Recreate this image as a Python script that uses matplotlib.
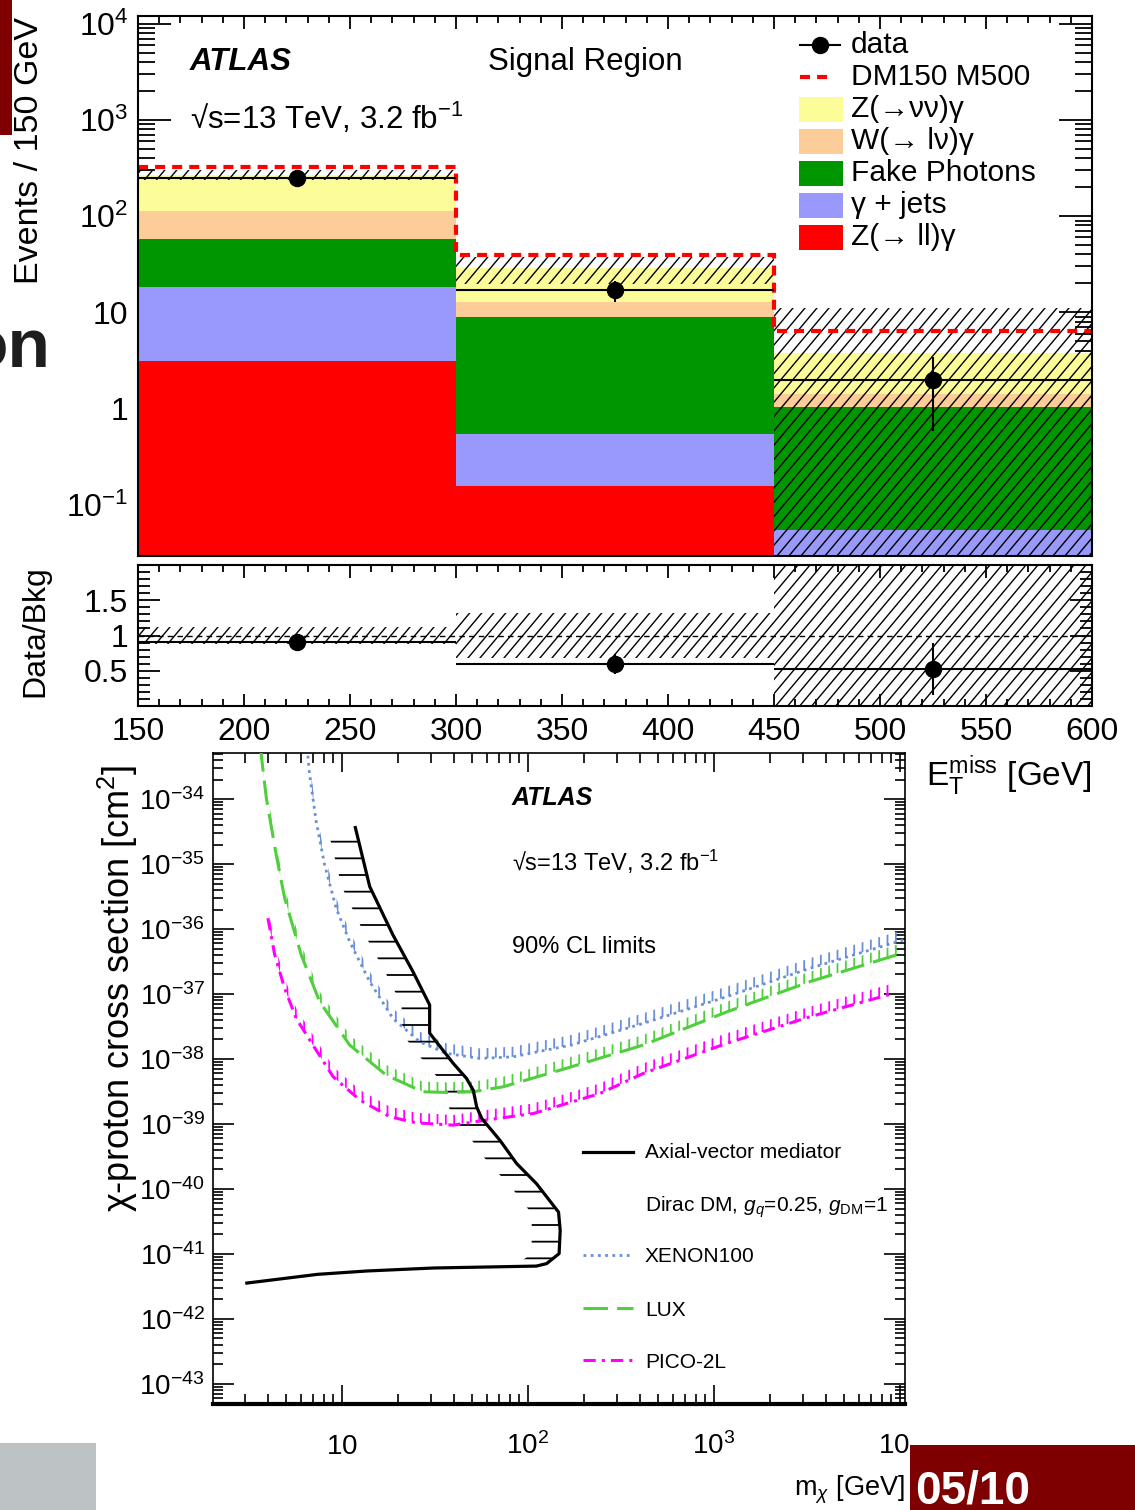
import numpy as np
import matplotlib
matplotlib.use('Agg')
import matplotlib.pyplot as plt
from matplotlib import ticker
from matplotlib.patches import Rectangle, Polygon
from matplotlib.collections import LineCollection
from matplotlib.lines import Line2D

W, H = 1135, 1510
SANS = ['Liberation Sans', 'DejaVu Sans']

plt.rcParams['font.family'] = SANS
plt.rcParams['mathtext.fontset'] = 'custom'
plt.rcParams['mathtext.rm'] = 'Liberation Sans'
plt.rcParams['mathtext.it'] = 'Liberation Sans:italic'
plt.rcParams['mathtext.bf'] = 'Liberation Sans:bold'
plt.rcParams['hatch.linewidth'] = 1.3

# ---- E_T^miss spectrum, signal region (events per bin) ----
bin_edges = [150, 300, 450, 600]
z_ll = [3.14, 0.157, 0.005]
gamma_jets = [15.2, 0.39, 0.05]
fake_photons = [39.0, 8.4, 0.99]
w_lnu = [55.4, 3.9, 0.38]
z_nunu = [157.3, 15.9, 2.38]
bkg_err = [32.0, 9.0, 7.4]
dm_signal = [55.0, 10.7, 2.64]
data = [247, 17, 2]

# ---- 90% CL limits on chi-proton cross section [cm2] vs m_chi [GeV] ----
atlas_mass = [11.8, 14.1, 18.8, 24.1, 29.6, 29.6, 39.6, 46.8, 50.8, 53.0, 56.4, 70.7,
              86.9, 111, 146, 149, 147, 126, 111, 31, 13.6, 7.4, 3.08]
atlas_xsec = [3.65e-35, 4.5e-36, 8.1e-37, 2.2e-37, 6.8e-38, 2.5e-38, 8.6e-39, 5.0e-39,
              3.3e-39, 1.83e-39, 1.22e-39, 5.6e-40, 2.46e-40, 1.21e-40, 4.4e-41, 2.3e-41,
              1.01e-41, 7.1e-42, 6.5e-42, 6.07e-42, 5.46e-42, 4.85e-42, 3.56e-42]
xenon_mass = [6.5, 6.70, 7.27, 8.07, 9.31, 11.0, 14.1, 18.8, 26.2, 36.4, 55.0, 83.0,
              125, 171, 417, 1170, 3280, 10400]
xenon_xsec = [6e-34, 2.37e-34, 4.5e-35, 9.7e-36, 2.09e-36, 6.4e-37, 1.55e-37, 4.2e-38,
              1.84e-38, 1.22e-38, 1.02e-38, 1.08e-38, 1.37e-38, 1.64e-38, 3.54e-38,
              9.1e-38, 2.49e-37, 6.8e-37]
lux_mass = [3.64, 3.92, 4.43, 4.92, 6.04, 7.59, 11.0, 17.3, 27.2, 36.4, 50.6, 73.4,
            161, 417, 1170, 3280, 10400]
lux_xsec = [6.3e-34, 1.04e-34, 1.39e-35, 2.99e-36, 3.99e-37, 7.6e-38, 1.64e-38, 5.65e-39,
            3.13e-39, 3.06e-39, 3.13e-39, 3.73e-39, 7.2e-39, 1.64e-38, 5.3e-38,
            1.55e-37, 4.3e-37]
pico_mass = [4.0, 4.35, 4.92, 5.68, 6.98, 8.98, 12.5, 18.1, 25.2, 39.6, 60.0, 107,
             244, 417, 1170, 3280, 9200]
pico_xsec = [1.47e-36, 4.0e-37, 1.22e-37, 4.2e-38, 1.64e-38, 5.3e-39, 2.33e-39, 1.29e-39,
             1.04e-39, 9.6e-40, 1.15e-39, 1.45e-39, 2.95e-39, 6.0e-39, 1.74e-38,
             4.47e-38, 1.02e-37]

C_ZNN = '#fcfc99'
C_WLN = '#fccc99'
C_FAKE = '#009600'
C_GJ = '#9999fc'
C_ZLL = '#ff0000'
C_XE = '#6a8fd6'
C_LUX = '#4fcf3c'
C_PICO = '#ff00ff'


def px_axes(l, t, r, b):
    return fig.add_axes([l / W, 1 - b / H, (r - l) / W, (b - t) / H])


def ftext(x, y, s, **kw):
    return fig.text(x / W, 1 - y / H, s, **kw)


def frect(x0, y0, x1, y1, **kw):
    fig.add_artist(Rectangle((x0 / W, 1 - y1 / H), (x1 - x0) / W, (y1 - y0) / H,
                             transform=fig.transFigure, **kw))


def fline(x0, x1, y, **kw):
    fig.add_artist(Line2D([x0 / W, x1 / W], [1 - y / H, 1 - y / H],
                          transform=fig.transFigure, **kw))


def diag_hatch(a, x0, x1, y0, y1, step=12.0, angle=50.0):
    # ROOT-like diagonal hatch clipped to a data-space rectangle
    bb = a.get_position()
    wpx, hpx = bb.width * W, bb.height * H
    run = hpx / np.tan(np.radians(angle))
    segs = [[(c / wpx, 0), ((c + run) / wpx, 1)] for c in np.arange(-run, wpx, step)]
    lc = LineCollection(segs, colors='k', linewidths=1.0, transform=a.transAxes, zorder=4)
    a.add_collection(lc, autolim=False)
    clip = Rectangle((x0, y0), x1 - x0, y1 - y0, transform=a.transData)
    lc.set_clip_path(clip)


fig = plt.figure(figsize=(W / 100, H / 100), dpi=100)
fig.patch.set_facecolor('white')

ax = px_axes(138, 16, 1092, 556)
rax = px_axes(138, 565, 1092, 706)
lax = px_axes(213, 753, 905, 1404)

# ---------------- stacked backgrounds ----------------
edges = np.array(bin_edges, dtype=float)
lefts = edges[:-1]
widths = np.diff(edges)
centers = lefts + widths / 2

ax.set_yscale('log')
base = np.full(3, 1e-4)
for vals, col in [(z_ll, C_ZLL), (gamma_jets, C_GJ), (fake_photons, C_FAKE),
                  (w_lnu, C_WLN), (z_nunu, C_ZNN)]:
    ax.bar(lefts, vals, widths, bottom=base, align='edge', color=col, linewidth=0, zorder=2)
    base = base + np.array(vals)
bkg = base - 1e-4

for i in range(3):
    diag_hatch(ax, edges[i], edges[i + 1], max(bkg[i] - bkg_err[i], 1e-4), bkg[i] + bkg_err[i])

total = bkg + np.array(dm_signal)
sig = ax.stairs(total, edges, baseline=None, color='red', linewidth=3.0, zorder=5)
sig.set_linestyle((0, (2.4, 1.7)))

data_arr = np.array(data, dtype=float)
ax.errorbar(centers, data_arr, xerr=widths / 2, yerr=np.sqrt(data_arr), fmt='o', color='k',
            ms=11.5, elinewidth=1.5, capsize=0, zorder=6)

ax.set_xlim(150, 600)
ax.set_ylim(0.0294, 1.2e4)
ax.yaxis.set_major_locator(ticker.FixedLocator([0.1, 1, 10, 100, 1000, 10000]))
ax.yaxis.set_major_formatter(ticker.FixedFormatter(
    [r'$\mathdefault{10^{-1}}$', '1', '10', r'$\mathdefault{10^{2}}$',
     r'$\mathdefault{10^{3}}$', r'$\mathdefault{10^{4}}$']))
ax.yaxis.set_minor_locator(ticker.LogLocator(base=10, subs=np.arange(2, 10), numticks=20))
ax.yaxis.set_minor_formatter(ticker.NullFormatter())
ax.xaxis.set_major_locator(ticker.MultipleLocator(50))
ax.xaxis.set_minor_locator(ticker.MultipleLocator(10))
ax.tick_params(which='both', direction='in', top=True, right=True, width=1.3,
               labelbottom=False, labelsize=23, pad=7)
ax.tick_params(axis='x', which='major', length=9.5)
ax.tick_params(axis='x', which='minor', length=5)
ax.tick_params(axis='y', which='major', length=24)
ax.tick_params(axis='y', which='minor', length=12)
for s in ax.spines.values():
    s.set_linewidth(1.5)
    s.set_zorder(7)

ftext(190, 62, 'ATLAS', fontsize=22.5, weight='bold', style='italic', va='center')
ftext(488, 62, 'Signal Region', fontsize=22.5, va='center')
ftext(190, 118, r'√s=13 TeV, 3.2 fb$^{\mathdefault{-1}}$', fontsize=22.5, va='center')

# legend
fline(800, 840, 45, color='k', lw=1.5)
fig.add_artist(Line2D([820 / W], [1 - 45 / H], marker='o', ms=11.5, color='k',
                      transform=fig.transFigure))
fline(800, 834, 77, color='red', lw=3.0, linestyle=(0, (2.4, 1.7)))
legend_rows = [('data', 45, None), ('DM150 M500', 77, None),
               ('Z(→νν)γ', 109, C_ZNN), ('W(→ lν)γ', 141, C_WLN),
               ('Fake Photons', 173, C_FAKE), ('γ + jets', 205, C_GJ),
               ('Z(→ ll)γ', 237, C_ZLL)]
for label, yy, col in legend_rows:
    if col is not None:
        frect(799, yy - 12, 843, yy + 13, color=col, lw=0)
    ftext(851, yy, label, fontsize=21.5, va='center')

ftext(30, 150, 'Events / 150 GeV', fontsize=24.5, rotation=90, ha='center', va='center')

# ---------------- ratio panel ----------------
ratio = data_arr / bkg
rel = np.array(bkg_err) / bkg
for i in range(3):
    diag_hatch(rax, edges[i], edges[i + 1], 1 - rel[i], 1 + rel[i])
rax.axhline(1.0, color='k', lw=1.0, linestyle=(0, (4, 3)), zorder=3)
rax.errorbar(centers, ratio, xerr=widths / 2, yerr=np.sqrt(data_arr) / bkg, fmt='o',
             color='k', ms=11.5, elinewidth=1.5, capsize=0, zorder=6)
rax.set_xlim(150, 600)
rax.set_ylim(0.0, 2.0)
rax.yaxis.set_major_locator(ticker.FixedLocator([0.5, 1.0, 1.5]))
rax.yaxis.set_major_formatter(ticker.FixedFormatter(['0.5', '1', '1.5']))
rax.yaxis.set_minor_locator(ticker.MultipleLocator(0.1))
rax.xaxis.set_major_locator(ticker.MultipleLocator(50))
rax.xaxis.set_minor_locator(ticker.MultipleLocator(10))
rax.tick_params(which='both', direction='in', top=True, right=True, width=1.3,
                labelsize=23, pad=7)
rax.tick_params(axis='x', which='major', length=9, pad=8)
rax.tick_params(axis='x', which='minor', length=5)
rax.tick_params(axis='y', which='major', length=16)
rax.tick_params(axis='y', which='minor', length=8.5)
for s in rax.spines.values():
    s.set_linewidth(1.5)
    s.set_zorder(7)

ftext(35, 631, 'Data/Bkg', fontsize=23, rotation=90, ha='center', va='center')
ftext(1092, 776, r'E$_{\mathdefault{T}}^{\mathdefault{miss}}$ [GeV]', fontsize=24,
      ha='right', va='center')

# ---------------- DM-nucleon limit plot ----------------
lax.set_xscale('log')
lax.set_yscale('log')
lax.set_xlim(2.026, 10640)
lax.set_ylim(10 ** -43.31, 10 ** -33.29)


def exclusion(mass, xsec, color, style, lw, shift_x=1.0, shift_y=1.0, hatch='||', n=None):
    m = np.array(mass)
    s = np.array(xsec)
    lax.plot(m, s, color=color, lw=lw, linestyle=style, zorder=5)
    if n is not None:
        m, s = m[:n], s[:n]
    poly = np.column_stack([np.r_[m, m[::-1] * shift_x], np.r_[s, s[::-1] * shift_y]])
    lax.add_patch(Polygon(poly, closed=True, facecolor='none', edgecolor=color,
                          linewidth=0, hatch=hatch, zorder=4))


exclusion(xenon_mass, xenon_xsec, C_XE, (0, (1, 1.6)), 2.0, shift_y=1.43)
exclusion(lux_mass, lux_xsec, C_LUX, (0, (8, 3)), 2.2, shift_y=1.43)
exclusion(pico_mass, pico_xsec, C_PICO, (0, (4, 2, 1, 2)), 2.2, shift_y=1.43)
exclusion(atlas_mass, atlas_xsec, 'k', '-', 2.3, shift_x=0.707, hatch='-', n=19)


def log_label(v, pos):
    e = int(round(np.log10(v)))
    if e == 1:
        return r'$\mathdefault{10}$'
    return r'$\mathdefault{10^{%d}}$' % e


lax.xaxis.set_major_locator(ticker.LogLocator(base=10, numticks=20))
lax.xaxis.set_minor_locator(ticker.LogLocator(base=10, subs=np.arange(2, 10), numticks=20))
lax.xaxis.set_major_formatter(ticker.FuncFormatter(log_label))
lax.xaxis.set_minor_formatter(ticker.NullFormatter())
lax.yaxis.set_major_locator(ticker.LogLocator(base=10, numticks=20))
lax.yaxis.set_minor_locator(ticker.LogLocator(base=10, subs=np.arange(2, 10), numticks=20))
lax.yaxis.set_major_formatter(ticker.FuncFormatter(log_label))
lax.yaxis.set_minor_formatter(ticker.NullFormatter())
lax.tick_params(which='both', direction='in', top=True, right=True, width=1.2)
lax.tick_params(axis='x', which='major', length=14, labelsize=20)
lax.tick_params(axis='x', which='minor', length=7)
lax.tick_params(axis='y', which='major', length=15, labelsize=20, pad=6)
lax.tick_params(axis='y', which='minor', length=7.5)
for s in lax.spines.values():
    s.set_linewidth(1.2)
lax.spines['bottom'].set_linewidth(3.0)
for t in lax.get_xticklabels():
    t.set_verticalalignment('baseline')
lax.tick_params(axis='x', which='major', pad=36)

ftext(512, 798, 'ATLAS', fontsize=18, weight='bold', style='italic', va='center')
ftext(512, 862, r'√s=13 TeV, 3.2 fb$^{\mathdefault{-1}}$', fontsize=17, va='center')
ftext(512, 947, '90% CL limits', fontsize=17, va='center')

fline(583, 633, 1152, color='k', lw=2.3)
fline(583, 633, 1255, color=C_XE, lw=2.0, linestyle=(0, (1, 1.6)))
fline(583, 633, 1308, color=C_LUX, lw=2.2, linestyle=(0, (8, 3)))
fline(583, 633, 1360, color=C_PICO, lw=2.2, linestyle=(0, (4, 2, 1, 2)))
for label, yy in [('Axial-vector mediator', 1152),
                  (r'Dirac DM, $g_q$=0.25, $g_{\mathdefault{DM}}$=1', 1207),
                  ('XENON100', 1257), ('LUX', 1310), ('PICO-2L', 1362)]:
    ftext(645, yy, label, fontsize=15, va='center')

ftext(118, 988, 'χ-proton cross section [cm$^{\\mathdefault{2}}$]', fontsize=26,
      rotation=90, ha='center', va='center')
ftext(905, 1490, r'm$_{\chi}$ [GeV]', fontsize=19.5, ha='right', va='center')

# ---------------- page furniture ----------------
frect(0, 0, 12, 135, color='#7f0000', lw=0)
ftext(50, 368, 'on', fontsize=50, weight='bold', ha='right', va='baseline', color='#1e1e1e')
frect(0, 1443, 96, 1510, color='#bdc2c5', lw=0)
frect(909, 1412, 935, 1445, color='white', lw=0, zorder=10)
frect(910, 1445, 1135, 1510, color='#7f0000', lw=0, zorder=10)
ftext(915, 1503, '05/10', fontsize=33, weight='bold', color='white', va='baseline',
      zorder=11)

fig.savefig('out.png', dpi=100, facecolor='white')
